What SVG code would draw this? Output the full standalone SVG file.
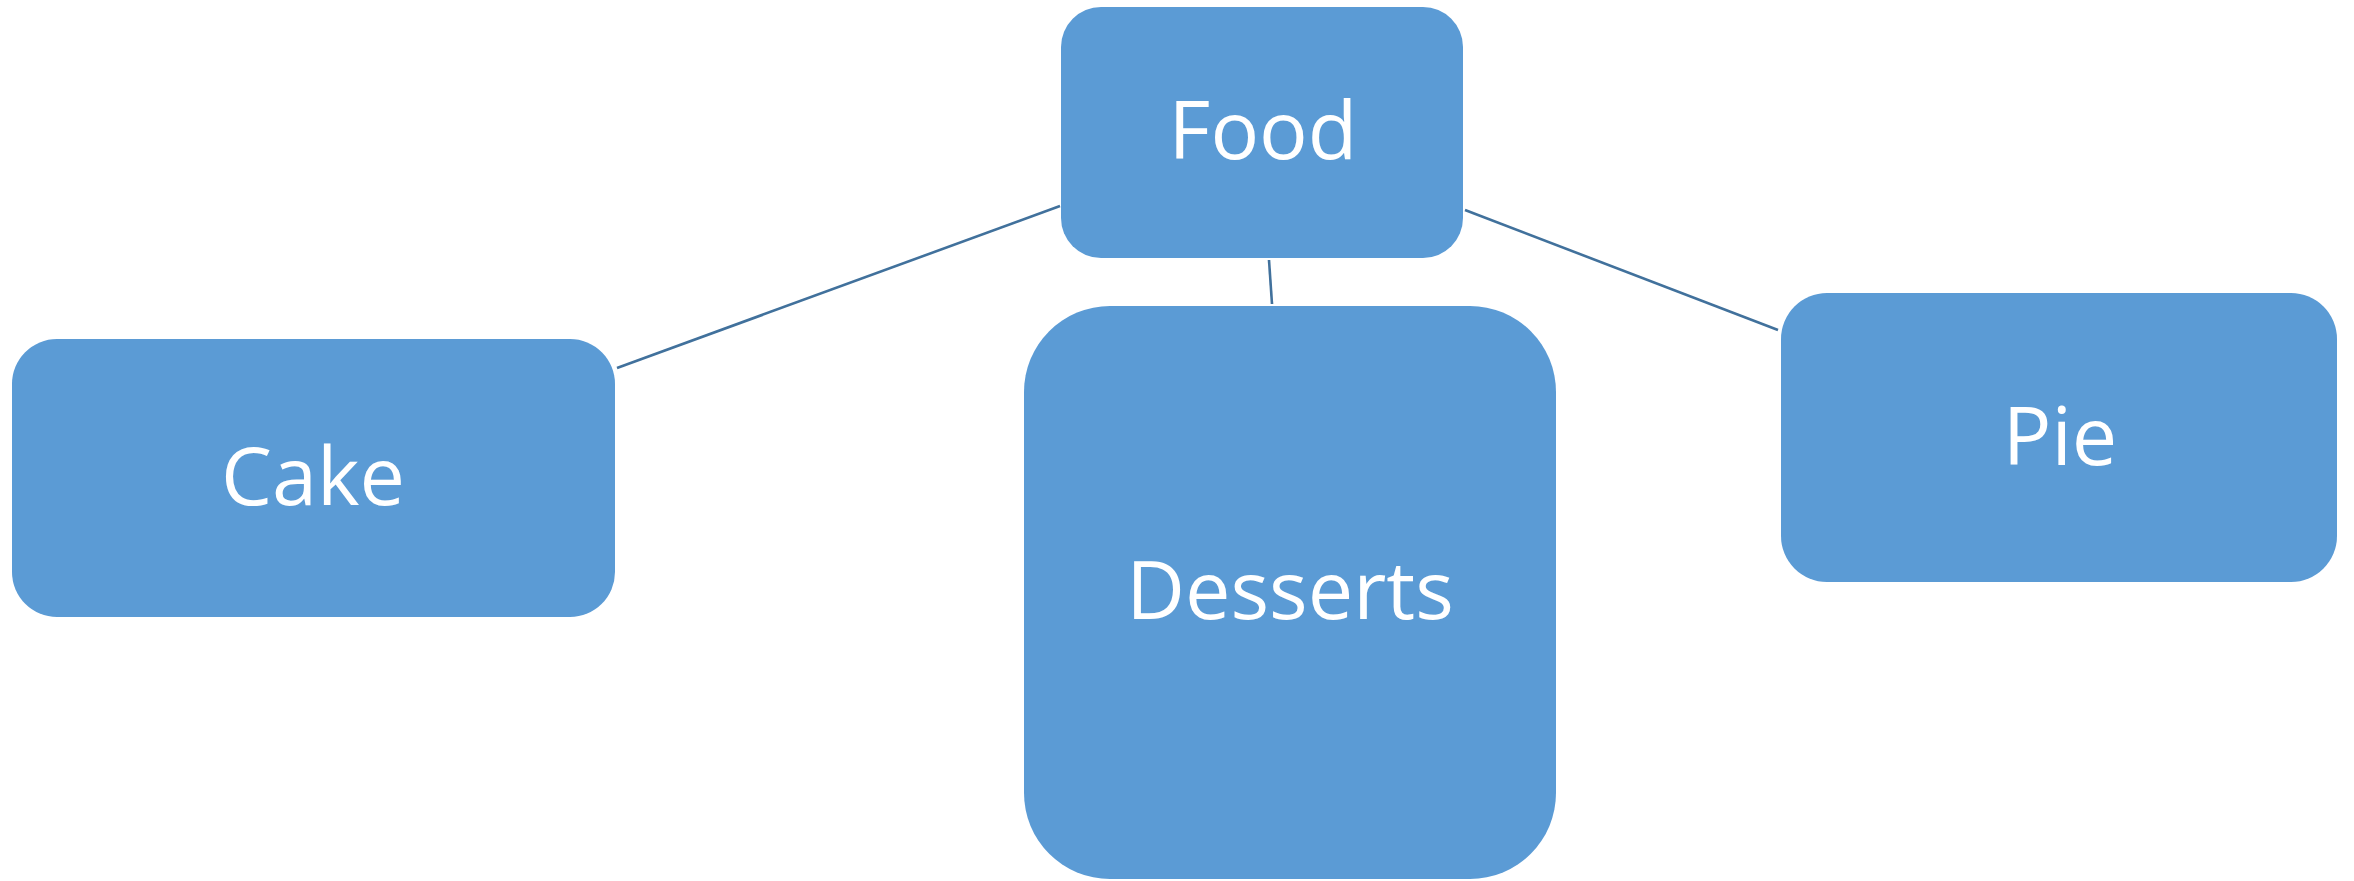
<svg xmlns="http://www.w3.org/2000/svg" width="2354" height="881" viewBox="0 0 2354 881">
<style>
.node{fill:#5B9BD5;}
.lbl{font-family:"Open Sans","Noto Sans","Liberation Sans",sans-serif;font-size:81px;fill:#FFFFFF;text-anchor:middle;}
.conn{stroke:#41719C;stroke-width:2.6;fill:none;}
</style>
<rect width="2354" height="881" fill="#FFFFFF"/>
<g id="connectors">
<line class="conn" x1="617" y1="368" x2="1060" y2="206"/>
<line class="conn" x1="1269" y1="260" x2="1272" y2="304"/>
<line class="conn" x1="1465" y1="210" x2="1778" y2="330"/>
</g>
<g id="food">
<rect class="node" x="1061" y="7" width="402" height="251" rx="40" ry="40"/>
<text class="lbl" x="1263" y="159">Food</text>
</g>
<g id="cake">
<rect class="node" x="12" y="339" width="603" height="278" rx="45" ry="45"/>
<text class="lbl" x="313" y="505">Cake</text>
</g>
<g id="desserts">
<rect class="node" x="1024" y="306" width="532" height="573" rx="86" ry="86"/>
<text class="lbl" x="1290" y="619">Desserts</text>
</g>
<g id="pie">
<rect class="node" x="1781" y="293" width="556" height="289" rx="46" ry="46"/>
<text class="lbl" x="2060" y="465">Pie</text>
</g>
</svg>
